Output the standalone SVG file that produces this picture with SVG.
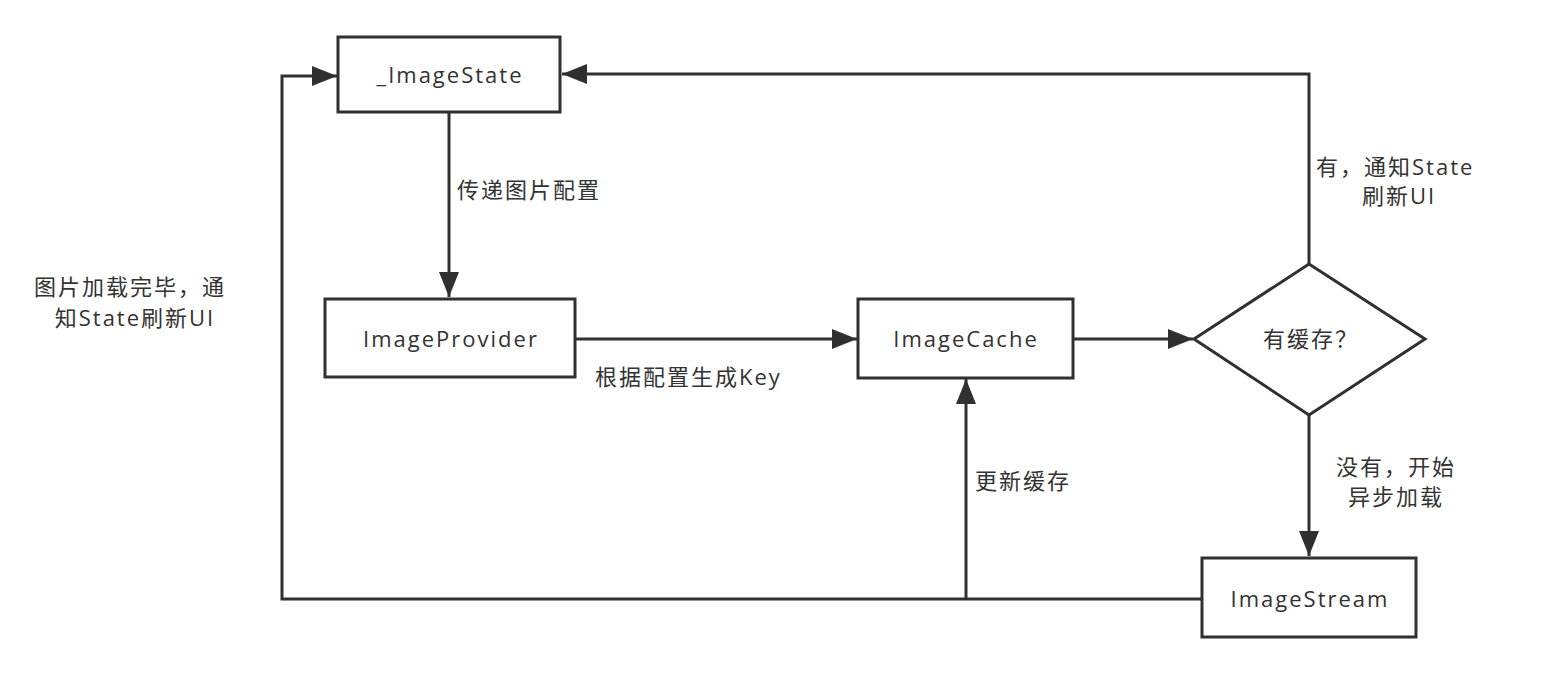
<svg xmlns="http://www.w3.org/2000/svg" width="1564" height="688" viewBox="0 0 1564 688">
<defs>
<style>
.node{fill:#fff;stroke:#303030;stroke-width:3}
.edge{fill:none;stroke:#303030;stroke-width:3}
text{font-family:"Open Sans","Noto Sans CJK SC",sans-serif;font-size:22px;letter-spacing:2px;fill:#333}
.c{text-anchor:middle}
</style>
<marker id="ah" viewBox="0 0 20 16" refX="20" refY="8" markerWidth="26" markerHeight="20" markerUnits="userSpaceOnUse" orient="auto">
<path d="M0,0 L20,8 L0,16 Z" fill="#303030"/>
</marker>
</defs>
<rect width="1564" height="688" fill="#fff"/>
<g id="connectors">
<path class="edge" d="M449,112 L449,297" marker-end="url(#ah)"/>
<path class="edge" d="M575,339 L857,339" marker-end="url(#ah)"/>
<path class="edge" d="M1073,339 L1193,339" marker-end="url(#ah)"/>
<path class="edge" d="M1309,264 L1309,74 L562,74" marker-end="url(#ah)"/>
<path class="edge" d="M1309,415 L1309,556" marker-end="url(#ah)"/>
<path class="edge" d="M1202,599 L282,599 L282,76 L337,76" marker-end="url(#ah)"/>
<path class="edge" d="M966,599 L966,379" marker-end="url(#ah)"/>
<text x="457" y="198">传递图片配置</text>
<text x="595" y="385">根据配置生成Key</text>
<text x="975" y="489">更新缓存</text>
<text x="1316" y="175">有，通知State</text>
<text x="1399" y="204" class="c">刷新UI</text>
<text x="1336" y="475">没有，开始</text>
<text x="1348" y="505">异步加载</text>
<text x="34" y="295">图片加载完毕，通</text>
<text x="135" y="326" class="c">知State刷新UI</text>
</g>
<g id="imageState">
<rect class="node" x="338" y="37" width="222" height="75"/>
<text x="450" y="83" class="c">_ImageState</text>
</g>
<g id="imageProvider">
<rect class="node" x="325" y="299" width="250" height="78"/>
<text x="451" y="347" class="c">ImageProvider</text>
</g>
<g id="imageCache">
<rect class="node" x="858" y="299" width="215" height="79"/>
<text x="966" y="347" class="c">ImageCache</text>
</g>
<g id="hasCache">
<polygon class="node" points="1309,264 1425,339 1309,415 1194,339"/>
<text x="1311" y="347" class="c">有缓存？</text>
</g>
<g id="imageStream">
<rect class="node" x="1202" y="558" width="214" height="79"/>
<text x="1310" y="607" class="c">ImageStream</text>
</g>
</svg>
